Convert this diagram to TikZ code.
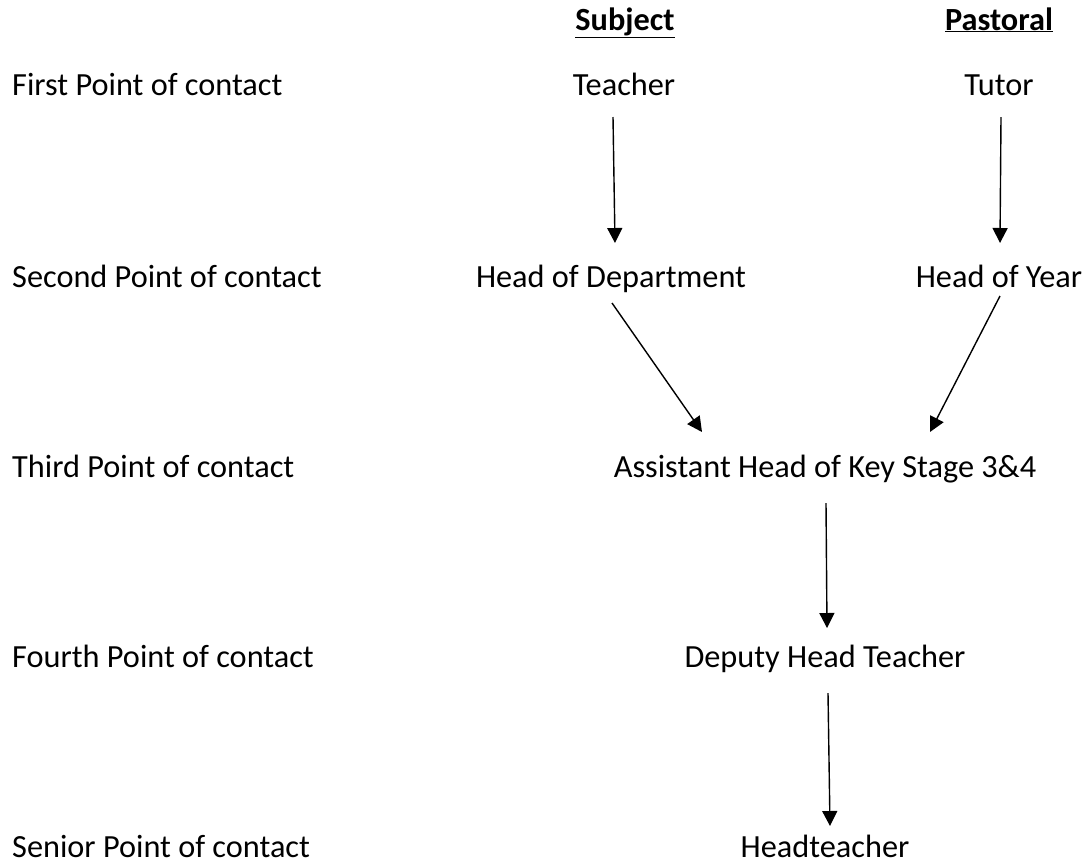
\documentclass[tikz,border=0pt]{standalone}
\usepackage{fontspec}
\setmainfont{Carlito}
\usetikzlibrary{arrows.meta}

\tikzset{
  lbl/.style={inner sep=0pt, font=\fontsize{32.3}{38}\selectfont},
  row/.style={lbl, anchor=base west},
  role/.style={lbl, anchor=base},
  head/.style={lbl, anchor=base, font=\fontsize{32.3}{38}\selectfont\bfseries},
  arr/.style={line width=1.4pt, -{Triangle[length=15pt,width=15pt]}}
}

\begin{document}
\begin{tikzpicture}[x=1pt, y=-1pt]
    \useasboundingbox (0,0) rectangle (1089,863);
    % column headings
    \node[head] (subject) at (625,30) {\underline{Subject}};
    \node[head] (pastoral) at (999,30) {\underline{Pastoral}};
    % row labels
    \node[row] (first) at (12,95) {First Point of contact};
    \node[row] (second) at (12,287) {Second Point of contact};
    \node[row] (third) at (12,477) {Third Point of contact};
    \node[row] (fourth) at (12,667) {Fourth Point of contact};
    \node[row] (senior) at (12,857) {Senior Point of contact};
    % roles
    \node[role] (teacher) at (624,95) {Teacher};
    \node[role] (tutor) at (999,95) {Tutor};
    \node[role] (hod) at (611,287) {Head of Department};
    \node[role] (hoy) at (999,287) {Head of Year};
    \node[role] (ahks) at (825,477) {Assistant Head of Key Stage 3\&4};
    \node[role] (dht) at (825,667) {Deputy Head Teacher};
    \node[role] (headt) at (825,857) {Headteacher};
    % arrows
    \draw[arr] ([xshift=-11pt,yshift=-22pt]teacher.base) -- ([xshift=4pt,yshift=44pt]hod.base);
    \draw[arr] ([xshift=2pt,yshift=-22pt]tutor.base) -- ([xshift=1pt,yshift=44pt]hoy.base);
    \draw[arr] ([xshift=1pt,yshift=-16pt]hod.base) -- ([xshift=-123pt,yshift=45pt]ahks.base);
    \draw[arr] ([xshift=1pt,yshift=-9pt]hoy.base) -- ([xshift=105pt,yshift=45pt]ahks.base);
    \draw[arr] ([xshift=1pt,yshift=-26pt]ahks.base) -- ([xshift=2pt,yshift=39pt]dht.base);
    \draw[arr] ([xshift=3pt,yshift=-26pt]dht.base) -- ([xshift=5pt,yshift=31pt]headt.base);
  \end{tikzpicture}
\end{document}
